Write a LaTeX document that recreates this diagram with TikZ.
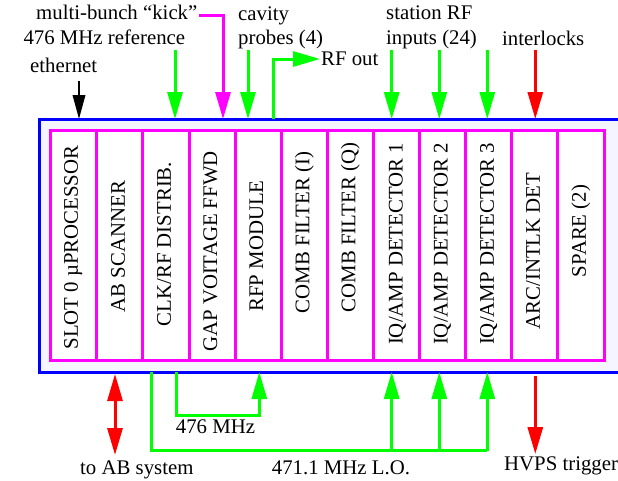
\documentclass[tikz,border=0pt]{standalone}
\usepackage{fontspec}
\setmainfont{Liberation Serif}
\usetikzlibrary{arrows.meta}
\definecolor{crateblue}{RGB}{0,0,255}
\definecolor{cratefill}{RGB}{245,245,255}
\definecolor{slotpink}{RGB}{255,0,255}
\definecolor{sigred}{RGB}{255,0,0}
\definecolor{siggreen}{RGB}{0,255,0}
\tikzset{
  lbl/.style={inner sep=0pt, font=\fontsize{20.8}{24}\selectfont, anchor=base west},
  slotlbl/.style={inner sep=0pt, font=\fontsize{20.8}{24}\selectfont, rotate=90, anchor=base},
  slotbox/.style={draw=slotpink, line width=3pt, fill=white, minimum width=46.11pt, minimum height=230pt, inner sep=0pt, outer sep=0pt},
  crate/.style={draw=crateblue, line width=3pt, fill=cratefill, minimum width=601pt, minimum height=253pt, inner sep=0pt, outer sep=0pt},
  tip/.style={-{Triangle[width=15pt,length=27pt]}},
  greenarr/.style={draw=siggreen, line width=3pt, tip},
  greenline/.style={draw=siggreen, line width=3pt},
  redarr/.style={draw=sigred, line width=3pt, tip},
}
\begin{document}
\begin{tikzpicture}[x=1pt,y=-1pt]
\useasboundingbox (0,0) rectangle (618,480);
\clip (0,0) rectangle (618,480);
\fill[white] (0,0) rectangle (618,480);
% crate
\node[crate] (crate) at (339.5,245.5) {};
% slots
\foreach \i in {0,...,11}{
  \node[slotbox] (s\i) at ({50.7+46.11*(\i+0.5)},245.7) {};
}
% slot labels
\node[slotlbl] (l0) at ([xshift=4pt]s0.center |- 0,247.5) {SLOT 0 µPROCESSOR};
\node[slotlbl] (l1) at ([xshift=5pt]s1.center |- 0,246.5) {AB SCANNER};
\node[slotlbl] (l2) at ([xshift=5pt]s2.center |- 0,244) {CLK/RF DISTRIB.};
\node[slotlbl] (l3) at ([xshift=5pt]s3.center |- 0,251.5) {GAP VOITAGE FFWD};
\node[slotlbl] (l4) at ([xshift=5pt]s4.center |- 0,246) {RFP MODULE};
\node[slotlbl] (l5) at ([xshift=5pt]s5.center |- 0,232.5) {COMB FILTER (I)};
\node[slotlbl] (l6) at ([xshift=5pt]s6.center |- 0,227.5) {COMB FILTER (Q)};
\node[slotlbl] (l7) at ([xshift=6pt]s7.center |- 0,244) {IQ/AMP DETECTOR 1};
\node[slotlbl] (l8) at ([xshift=5pt]s8.center |- 0,244) {IQ/AMP DETECTOR 2};
\node[slotlbl] (l9) at ([xshift=5pt]s9.center |- 0,244) {IQ/AMP DETECTOR 3};
\node[slotlbl] (l10) at ([xshift=5pt]s10.center |- 0,251) {ARC/INTLK DET};
\node[slotlbl] (l11) at ([xshift=5pt]s11.center |- 0,231) {SPARE (2)};

% top labels
\node[lbl] (kick) at (36,19) {multi-bunch “kick”};
\node[lbl] (ref) at (23.3,44.3) {476 MHz reference};
\node[lbl] (eth) at (30,72.7) {ethernet};
\node[lbl] (cav1) at (238,20) {cavity};
\node[lbl] (cav2) at (238,44.3) {probes (4)};
\node[lbl] (rfout) at (321,65) {RF out};
\node[lbl] (st1) at (386,19) {station RF};
\node[lbl] (st2) at (386,44.3) {inputs (24)};
\node[lbl] (intl) at (502,45) {interlocks};
% bottom labels
\node[lbl] (absys) at (80,474) {to AB system};
\node[lbl] (m476) at (175.7,433.3) {476 MHz};
\node[lbl] (lo) at (271.7,474) {471.1 MHz L.O.};
\node[lbl] (hvps) at (504,470) {HVPS trigger};

% coordinates for free ends
\coordinate (ethA) at (79,81);
\coordinate (ethB) at (79,119);
\coordinate (refA) at (175,50);
\coordinate (refB) at (175,119);
\coordinate (kickA) at (199,15);
\coordinate (kickB) at (223,119);
\coordinate (cavA) at (248,50);
\coordinate (cavB) at (248,119);
\coordinate (rfA) at (273,119);
\coordinate (rfB) at (320,59);
\coordinate (in1A) at (391.7,50);
\coordinate (in1B) at (391.7,119);
\coordinate (in2A) at (439.3,50);
\coordinate (in2B) at (439.3,119);
\coordinate (in3A) at (487.3,50);
\coordinate (in3B) at (487.3,119);
\coordinate (intA) at (535.3,50);
\coordinate (intB) at (535.3,119);

\coordinate (abA) at (115,374);
\coordinate (abB) at (115,455);
\coordinate (mA) at (176,372);
\coordinate (mB) at (259.3,372);
\coordinate (loA) at (151.7,372);
\coordinate (lo1) at (391.7,450.7);
\coordinate (lo2) at (439.3,450.7);
\coordinate (lo3) at (487.3,450.7);
\coordinate (lo1B) at (391.7,372);
\coordinate (lo2B) at (439.3,372);
\coordinate (lo3B) at (487.3,372);
\coordinate (hvA) at (535.3,376);
\coordinate (hvB) at (535.3,454);

% top connectors
\draw[line width=2pt, -{Triangle[width=12.5pt,length=24pt]}] (ethA) -- (ethB);
\draw[greenarr] (refA) -- (refB);
\draw[draw=slotpink, line width=3pt, tip] (kickA) -| (kickB);
\draw[greenarr] (cavA) -- (cavB);
\draw[greenarr] (rfA) |- (rfB);
\draw[greenarr] (in1A) -- (in1B);
\draw[greenarr] (in2A) -- (in2B);
\draw[greenarr] (in3A) -- (in3B);
\draw[redarr] (intA) -- (intB);

% bottom connectors
\draw[draw=sigred, line width=3pt, {Triangle[width=15pt,length=27pt]}-{Triangle[width=15pt,length=27pt]}] (abA) -- (abB);
\draw[greenarr] (mA) -- (176,415) -- (259.3,415) -- (mB);
\draw[greenline] (loA) |- (lo3);
\draw[greenarr] (lo1) -- (lo1B);
\draw[greenarr] (lo2) -- (lo2B);
\draw[greenarr] (lo3) -- (lo3B);
\draw[redarr] (hvA) -- (hvB);
\end{tikzpicture}
\end{document}
